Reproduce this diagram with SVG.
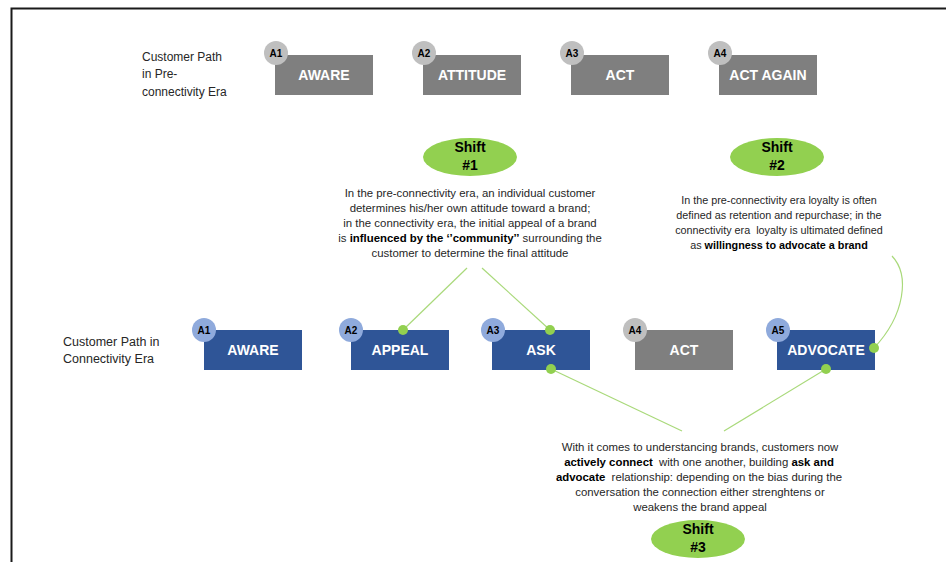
<svg xmlns="http://www.w3.org/2000/svg" width="946" height="562" viewBox="0 0 946 562">
<style>
.lbl{font-family:"Liberation Sans",Arial,sans-serif;font-size:12px;fill:#262626}
.bx{font-family:"Liberation Sans",Arial,sans-serif;font-size:14px;font-weight:bold;fill:#fff;text-anchor:middle}
.cl{font-family:"Liberation Sans",Arial,sans-serif;font-size:10px;font-weight:bold;fill:#000;text-anchor:middle}
.desc{font-family:"Liberation Sans",Arial,sans-serif;font-size:11.4px;fill:#262626;text-anchor:middle}
.desc2{font-family:"Liberation Sans",Arial,sans-serif;font-size:10.8px;fill:#262626;text-anchor:middle}
.sh{font-family:"Liberation Sans",Arial,sans-serif;font-size:14px;font-weight:bold;fill:#000;text-anchor:middle}
.b{font-weight:bold;fill:#000}
.gray{fill:#7f7f7f}
.blue{fill:#2f5597}
.cg{fill:#bfbfbf}
.cb{fill:#8faadc}
.ell{fill:#92d050}
.con{stroke:#a9d97a;stroke-width:1.2;fill:none}
.dot{fill:#92d050}
</style>
<rect x="0" y="0" width="946" height="562" fill="#fff"/>
<path d="M11.5 562 V8.5 H946" fill="none" stroke="#1a1a1a" stroke-width="2"/>

<g id="label-pre">
<text class="lbl" x="142" y="61">Customer Path</text>
<text class="lbl" x="142" y="78">in Pre-</text>
<text class="lbl" x="142" y="96">connectivity Era</text>
</g>
<g id="label-conn">
<text class="lbl" x="63" y="346" style="font-size:12.5px">Customer Path in</text>
<text class="lbl" x="63" y="363" style="font-size:12.5px">Connectivity Era</text>
</g>

<g id="pre-aware"><rect class="gray" x="275" y="55" width="98" height="40"/><circle class="cg" cx="276" cy="53" r="12"/><text class="cl" x="276" y="57">A1</text><text class="bx" x="324" y="80">AWARE</text></g>
<g id="pre-attitude"><rect class="gray" x="423" y="55" width="98" height="40"/><circle class="cg" cx="424" cy="53" r="12"/><text class="cl" x="424" y="57">A2</text><text class="bx" x="472" y="80">ATTITUDE</text></g>
<g id="pre-act"><rect class="gray" x="571" y="55" width="98" height="40"/><circle class="cg" cx="572" cy="53" r="12"/><text class="cl" x="572" y="57">A3</text><text class="bx" x="620" y="80">ACT</text></g>
<g id="pre-actagain"><rect class="gray" x="719" y="55" width="98" height="40"/><circle class="cg" cx="720" cy="53" r="12"/><text class="cl" x="720" y="57">A4</text><text class="bx" x="768" y="80">ACT AGAIN</text></g>

<g id="con-aware"><rect class="blue" x="204" y="330" width="98" height="40"/><circle class="cb" cx="204" cy="330" r="12"/><text class="cl" x="204" y="334">A1</text><text class="bx" x="253" y="355">AWARE</text></g>
<g id="con-appeal"><rect class="blue" x="351" y="330" width="98" height="40"/><circle class="cb" cx="351" cy="330" r="12"/><text class="cl" x="351" y="334">A2</text><text class="bx" x="400" y="355">APPEAL</text></g>
<g id="con-ask"><rect class="blue" x="492" y="330" width="98" height="40"/><circle class="cb" cx="493" cy="330" r="12"/><text class="cl" x="493" y="334">A3</text><text class="bx" x="541" y="355">ASK</text></g>
<g id="con-act"><rect class="gray" x="635" y="330" width="98" height="40"/><circle class="cg" cx="635" cy="330" r="12"/><text class="cl" x="635" y="334">A4</text><text class="bx" x="684" y="355">ACT</text></g>
<g id="con-advocate"><rect class="blue" x="777" y="330" width="98" height="40"/><circle class="cb" cx="778" cy="330" r="12"/><text class="cl" x="778" y="334">A5</text><text class="bx" x="826" y="355">ADVOCATE</text></g>

<g id="shift1">
<ellipse class="ell" cx="470" cy="157" rx="47" ry="19"/>
<text class="sh" x="470" y="152">Shift</text>
<text class="sh" x="470" y="170">#1</text>
<text class="desc" x="470" y="197">In the pre-connectivity era, an individual customer</text>
<text class="desc" x="470" y="212">determines his/her own attitude toward a brand;</text>
<text class="desc" x="470" y="227">in the connectivity era, the initial appeal of a brand</text>
<text class="desc" x="470" y="242">is <tspan class="b">influenced by the ‘’community’’</tspan> surrounding the</text>
<text class="desc" x="470" y="257">customer to determine the final attitude</text>
</g>

<g id="shift2">
<ellipse class="ell" cx="777" cy="157" rx="47" ry="19"/>
<text class="sh" x="777" y="152">Shift</text>
<text class="sh" x="777" y="170">#2</text>
<text class="desc2" x="779" y="204">In the pre-connectivity era loyalty is often</text>
<text class="desc2" x="779" y="219">defined as retention and repurchase; in the</text>
<text class="desc2" x="779" y="234" xml:space="preserve">connectivity era  loyalty is ultimated defined</text>
<text class="desc2" x="779" y="249">as <tspan class="b">willingness to advocate a brand</tspan></text>
</g>

<g id="shift3">
<text class="desc" x="700" y="451">With it comes to understancing brands, customers now</text>
<text class="desc" x="699" y="466" xml:space="preserve"><tspan class="b">actively connect</tspan>  with one another, building <tspan class="b">ask and</tspan></text>
<text class="desc" x="699" y="481" xml:space="preserve"><tspan class="b">advocate</tspan>  relationship: depending on the bias during the</text>
<text class="desc" x="700" y="496">conversation the connection either strenghtens or</text>
<text class="desc" x="700" y="511">weakens the brand appeal</text>
<ellipse class="ell" cx="698" cy="539" rx="47" ry="19"/>
<text class="sh" x="698" y="534">Shift</text>
<text class="sh" x="698" y="552">#3</text>
</g>

<g id="connectors">
<path class="con" d="M467 268 L403 330"/>
<path class="con" d="M482 268 L550 330"/>
<path class="con" d="M551 369 L682 431"/>
<path class="con" d="M826 369 L724 431"/>
<path class="con" d="M892 256 C910 275 905 315 874 348"/>
<circle class="dot" cx="403" cy="330" r="5"/>
<circle class="dot" cx="550" cy="330" r="5"/>
<circle class="dot" cx="551" cy="369" r="5"/>
<circle class="dot" cx="826" cy="369" r="5"/>
<circle class="dot" cx="874" cy="348" r="5"/>
</g>
</svg>
